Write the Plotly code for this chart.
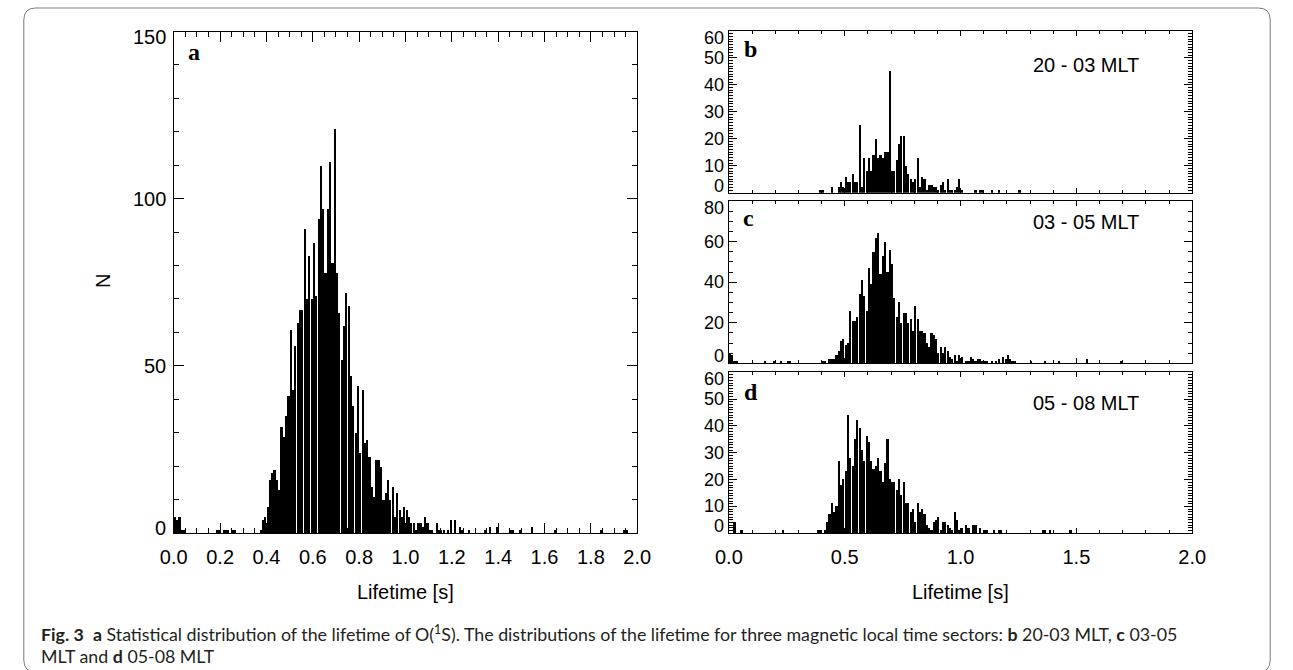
import plotly.graph_objects as go

W, H = 1293, 670

# ---------------- data (histogram counts, bin width 0.01 s, bins 0.00 ... 1.99) ----------------
BIN_WIDTH = 0.01
N_BINS = 200

COUNTS_A = [
    5, 4, 5, 1, 1, 0, 0, 0, 0, 0,   0, 0, 0, 0, 0, 0, 0, 0, 1, 1,
    0, 1, 1, 1, 0, 1, 1, 0, 0, 0,   0, 0, 0, 0, 0, 0, 0, 1, 4, 5,
    8, 16, 18, 19, 16, 13, 32, 29, 35, 41,   61, 43, 56, 63, 67, 67, 91, 70, 83, 70,
    87, 71, 94, 110, 97, 78, 97, 111, 81, 121,   78, 66, 52, 62, 72, 68, 47, 38, 30, 44,
    24, 43, 27, 28, 23, 14, 11, 22, 22, 20,   10, 12, 16, 10, 14, 5, 12, 7, 5, 8,
    7, 5, 3, 3, 1, 3, 3, 2, 5, 3,   1, 1, 0, 3, 1, 1, 1, 0, 1, 4,
    0, 4, 0, 2, 1, 0, 0, 1, 0, 0,   0, 0, 0, 0, 1, 0, 2, 0, 0, 2,
    0, 0, 0, 0, 0, 1, 1, 0, 0, 1,   0, 0, 0, 0, 2, 0, 0, 0, 0, 0,
    0, 0, 0, 0, 1, 0, 0, 0, 0, 0,   0, 0, 0, 0, 0, 0, 0, 0, 0, 0,
    0, 0, 0, 0, 1, 0, 0, 0, 0, 0,   0, 0, 0, 0, 1, 1, 0, 0, 0, 0,
]

COUNTS_B = [
    0, 0, 0, 0, 0, 0, 0, 0, 0, 0,   0, 0, 0, 0, 0, 0, 0, 0, 0, 0,
    0, 0, 0, 0, 0, 0, 0, 0, 0, 0,   0, 0, 0, 0, 0, 0, 0, 0, 0, 1,
    1, 0, 0, 0, 2, 0, 0, 2, 4, 2,   6, 4, 4, 7, 4, 4, 25, 2, 13, 8,
    13, 8, 14, 20, 13, 14, 13, 15, 15, 45,   8, 8, 12, 18, 21, 21, 10, 7, 5, 4,
    5, 13, 2, 6, 5, 1, 3, 3, 2, 2,   1, 3, 4, 1, 5, 1, 1, 1, 2, 5,
    1, 0, 0, 0, 0, 0, 1, 0, 1, 1,   0, 0, 0, 1, 0, 0, 1, 0, 0, 0,
    0, 0, 0, 0, 0, 1, 0, 0, 0, 0,   0, 0, 0, 0, 0, 0, 0, 0, 0, 0,
    0, 0, 0, 0, 0, 0, 0, 0, 0, 0,   0, 0, 0, 0, 0, 0, 0, 0, 0, 0,
    0, 0, 0, 0, 0, 0, 0, 0, 0, 0,   0, 0, 0, 0, 0, 0, 0, 0, 0, 0,
    0, 0, 0, 0, 0, 0, 0, 0, 0, 0,   0, 0, 0, 0, 0, 0, 0, 0, 0, 0,
]

COUNTS_C = [
    5, 4, 1, 1, 0, 0, 0, 0, 0, 0,   0, 0, 0, 0, 0, 1, 0, 0, 0, 1,
    0, 0, 1, 0, 0, 1, 1, 0, 0, 0,   0, 0, 0, 0, 0, 0, 0, 0, 0, 0,
    1, 1, 0, 2, 2, 2, 4, 6, 11, 12,   9, 10, 26, 21, 21, 23, 34, 41, 33, 26,
    47, 39, 55, 62, 64, 44, 53, 60, 45, 56,   49, 32, 23, 30, 20, 25, 25, 20, 22, 16,
    28, 22, 16, 16, 15, 10, 8, 15, 14, 12,   5, 8, 5, 8, 6, 3, 2, 4, 1, 4,
    3, 0, 1, 1, 3, 2, 1, 2, 2, 1,   1, 1, 0, 1, 0, 1, 2, 0, 3, 2,
    4, 2, 1, 1, 0, 0, 0, 0, 0, 0,   1, 0, 0, 0, 0, 0, 1, 0, 0, 0,
    0, 0, 1, 0, 0, 0, 0, 0, 0, 0,   0, 0, 0, 0, 2, 0, 0, 0, 0, 0,
    0, 0, 0, 0, 0, 0, 0, 0, 0, 1,   0, 0, 0, 0, 0, 0, 0, 0, 0, 0,
    0, 0, 0, 0, 0, 0, 0, 0, 0, 0,   0, 0, 0, 0, 0, 0, 0, 0, 0, 0,
]

COUNTS_D = [
    0, 0, 4, 0, 0, 1, 0, 0, 0, 0,   0, 0, 0, 0, 0, 0, 0, 0, 0, 0,
    0, 0, 0, 1, 0, 0, 0, 0, 0, 0,   0, 0, 0, 0, 0, 0, 0, 0, 1, 1,
    0, 1, 4, 7, 11, 8, 10, 27, 18, 20,   23, 44, 28, 25, 35, 42, 39, 31, 27, 36,
    34, 27, 24, 25, 28, 23, 19, 26, 35, 20,   19, 19, 16, 20, 14, 19, 11, 11, 8, 9,
    4, 11, 8, 9, 7, 3, 2, 1, 4, 5,   6, 1, 4, 4, 3, 2, 1, 8, 5, 1,
    2, 0, 3, 2, 0, 3, 3, 0, 2, 0,   1, 1, 0, 0, 1, 0, 1, 1, 0, 0,
    0, 0, 0, 0, 0, 0, 0, 0, 0, 0,   0, 0, 0, 0, 0, 1, 1, 0, 1, 0,
    0, 0, 0, 0, 0, 0, 0, 1, 0, 0,   0, 0, 0, 0, 0, 0, 0, 0, 0, 0,
    0, 0, 0, 0, 0, 0, 0, 0, 0, 0,   0, 0, 0, 0, 0, 0, 0, 0, 0, 0,
    0, 0, 0, 0, 0, 0, 0, 0, 0, 0,   0, 0, 0, 0, 0, 0, 0, 0, 0, 0,
]

PANEL_LETTERS = ["a", "b", "c", "d"]
MLT_LABELS = ["20 - 03 MLT", "03 - 05 MLT", "05 - 08 MLT"]
X_TICKS_A = [0.0, 0.2, 0.4, 0.6, 0.8, 1.0, 1.2, 1.4, 1.6, 1.8, 2.0]
X_TICKS_R = [0.0, 0.5, 1.0, 1.5, 2.0]
Y_TICKS_A = [0, 50, 100, 150]
Y_TICKS_B = [0, 10, 20, 30, 40, 50, 60]
Y_TICKS_C = [0, 20, 40, 60, 80]
Y_TICKS_D = [0, 10, 20, 30, 40, 50, 60]
X_TITLE = "Lifetime [s]"
Y_TITLE = "N"
CAPTION_1 = ("<b>Fig.\u00a03</b>\u00a0\u00a0<b>a</b> Statistical distribution of the lifetime of O(<sup>1</sup>S). "
             "The distributions of the lifetime for three magnetic local time sectors: "
             "<b>b</b> 20-03 MLT, <b>c</b> 03-05")
CAPTION_2 = "MLT and <b>d</b> 05-08 MLT"

# ---------------- helpers ----------------
def fx(px):
    return px / W

def fy(py):
    return 1 - py / H

CENTERS = [i * BIN_WIDTH + BIN_WIDTH / 2 for i in range(N_BINS)]

SANS = "Liberation Sans"
TICK_FONT = dict(family=SANS, size=20, color="#000")
R_TICK_FONT = dict(family=SANS, size=18, color="#000")

# panel geometry (pixels)
AX_A = dict(x0=163.3, x1=637.0, y0=31.5, y1=533.0)
RX0, RX1 = 730.7, 1204.3
AX_B = dict(x0=RX0, x1=RX1, y0=31.0, y1=192.7)
AX_C = dict(x0=RX0, x1=RX1, y0=201.0, y1=363.3)
AX_D = dict(x0=RX0, x1=RX1, y0=372.3, y1=533.3)

fig = go.Figure()

panels = [
    ("x", "y", COUNTS_A),
    ("x2", "y2", COUNTS_B),
    ("x3", "y3", COUNTS_C),
    ("x4", "y4", COUNTS_D),
]
for xa, ya, counts in panels:
    fig.add_trace(go.Bar(
        x=CENTERS, y=counts, xaxis=xa, yaxis=ya,
        width=0.0070, marker=dict(color="#000", line=dict(width=0)),
        showlegend=False, hoverinfo="skip",
    ))

common = dict(showline=True, linecolor="#000", linewidth=1, mirror="allticks",
              ticks="inside", tickcolor="#000", tickwidth=1, showgrid=False,
              zeroline=False, fixedrange=True)

def xdom(ax):
    return [fx(ax["x0"]), fx(ax["x1"])]

def ydom(ax):
    return [fy(ax["y1"]), fy(ax["y0"])]

layout = dict(
    width=W, height=H, margin=dict(l=0, r=0, t=0, b=0),
    paper_bgcolor="#fff", plot_bgcolor="#fff", bargap=0,
    font=dict(family=SANS, color="#000"),
)

layout["xaxis"] = dict(common, domain=xdom(AX_A), anchor="y", range=[0, 2],
                       tickvals=X_TICKS_A, ticktext=[f"{v:.1f}" for v in X_TICKS_A],
                       ticklen=10, tickfont=TICK_FONT, ticklabelstandoff=6,
                       minor=dict(ticks="inside", ticklen=5, dtick=0.05, tick0=0, tickcolor="#000"))
layout["yaxis"] = dict(common, domain=ydom(AX_A), anchor="x", range=[0, 150],
                       tickvals=Y_TICKS_A, ticklen=10, showticklabels=False,
                       minor=dict(ticks="inside", ticklen=5, dtick=10, tick0=0, tickcolor="#000"))

for k, ax, yt, ymax, mdt, show in [
    (2, AX_B, Y_TICKS_B, 60, 1, False),
    (3, AX_C, Y_TICKS_C, 80, 5, False),
    (4, AX_D, Y_TICKS_D, 60, 1, True),
]:
    layout[f"xaxis{k}"] = dict(common, domain=xdom(ax), anchor=f"y{k}", range=[0, 2],
                               tickvals=X_TICKS_R, ticktext=[f"{v:.1f}" for v in X_TICKS_R],
                               ticklen=5, showticklabels=show, tickfont=TICK_FONT,
                               ticklabelstandoff=6,
                               minor=dict(ticks="inside", ticklen=3, dtick=0.1, tick0=0, tickcolor="#000"))
    layout[f"yaxis{k}"] = dict(common, domain=ydom(ax), anchor=f"x{k}", range=[0, ymax],
                               tickvals=yt, ticklen=8, showticklabels=False,
                               minor=dict(ticks="inside", ticklen=4, dtick=mdt, tick0=0, tickcolor="#000"))

fig.update_layout(**layout)

ann = []
# y tick labels as annotations (end labels nudged inward, as in the original)
def ylabels(ticks, yref, right_px, font, nudge):
    out = []
    for i, v in enumerate(ticks):
        shift = 0
        if i == 0:
            shift = nudge
        elif i == len(ticks) - 1:
            shift = -nudge
        out.append(dict(x=fx(right_px), xref="paper", xanchor="right",
                        y=v, yref=yref, yanchor="middle", yshift=shift,
                        text=str(v), showarrow=False, font=font))
    return out

ann += ylabels(Y_TICKS_A, "y", 157, TICK_FONT, 5)
ann += ylabels(Y_TICKS_B, "y2", 728, R_TICK_FONT, 7)
ann += ylabels(Y_TICKS_C, "y3", 728, R_TICK_FONT, 7)
ann += ylabels(Y_TICKS_D, "y4", 728, R_TICK_FONT, 7)

# panel letters
LETTER_FONT = dict(family="Liberation Serif", size=24, color="#000")
for letter, (px, py) in zip(PANEL_LETTERS, [(184, 52), (753, 49), (751, 218), (753, 392)]):
    ann.append(dict(x=fx(px), y=fy(py), xref="paper", yref="paper", text=f"<b>{letter}</b>",
                    showarrow=False, xanchor="center", yanchor="middle", font=LETTER_FONT))

# MLT labels
MLT_FONT = dict(family=SANS, size=20, color="#000")
for lab, py in zip(MLT_LABELS, [65, 222, 403]):
    ann.append(dict(x=fx(1096), y=fy(py), xref="paper", yref="paper", text=lab,
                    showarrow=False, xanchor="center", yanchor="middle", font=MLT_FONT))

# axis titles
for cx in [(AX_A["x0"] + AX_A["x1"]) / 2, (RX0 + RX1) / 2]:
    ann.append(dict(x=fx(cx), y=fy(592), xref="paper", yref="paper", text=X_TITLE,
                    showarrow=False, xanchor="center", yanchor="middle", font=TICK_FONT))
ann.append(dict(x=fx(91), y=fy(281), xref="paper", yref="paper", text=Y_TITLE, textangle=-90,
                showarrow=False, xanchor="center", yanchor="middle", font=TICK_FONT))

# caption
CAP_FONT = dict(family="Lato", size=17.8, color="#231f20")
ann.append(dict(x=fx(26), y=fy(633), xref="paper", yref="paper", text=CAPTION_1,
                showarrow=False, xanchor="left", yanchor="middle", font=CAP_FONT))
ann.append(dict(x=fx(26), y=fy(656), xref="paper", yref="paper", text=CAPTION_2,
                showarrow=False, xanchor="left", yanchor="middle", font=CAP_FONT))

fig.update_layout(annotations=ann)

# rounded frame around the whole figure
bx0, by0, bx1, by1, r = 10, 8, 1284, 672, 12
path = (f"M {fx(bx0)},{fy(by0 + r)} Q {fx(bx0)},{fy(by0)} {fx(bx0 + r)},{fy(by0)} "
        f"L {fx(bx1 - r)},{fy(by0)} Q {fx(bx1)},{fy(by0)} {fx(bx1)},{fy(by0 + r)} "
        f"L {fx(bx1)},{fy(by1 - r)} Q {fx(bx1)},{fy(by1)} {fx(bx1 - r)},{fy(by1)} "
        f"L {fx(bx0 + r)},{fy(by1)} Q {fx(bx0)},{fy(by1)} {fx(bx0)},{fy(by1 - r)} Z")
fig.add_shape(type="path", path=path, xref="paper", yref="paper",
              line=dict(color="#7a7a7a", width=1), fillcolor="rgba(0,0,0,0)", layer="below")

fig.write_html("out.html", config={"displayModeBar": False})
